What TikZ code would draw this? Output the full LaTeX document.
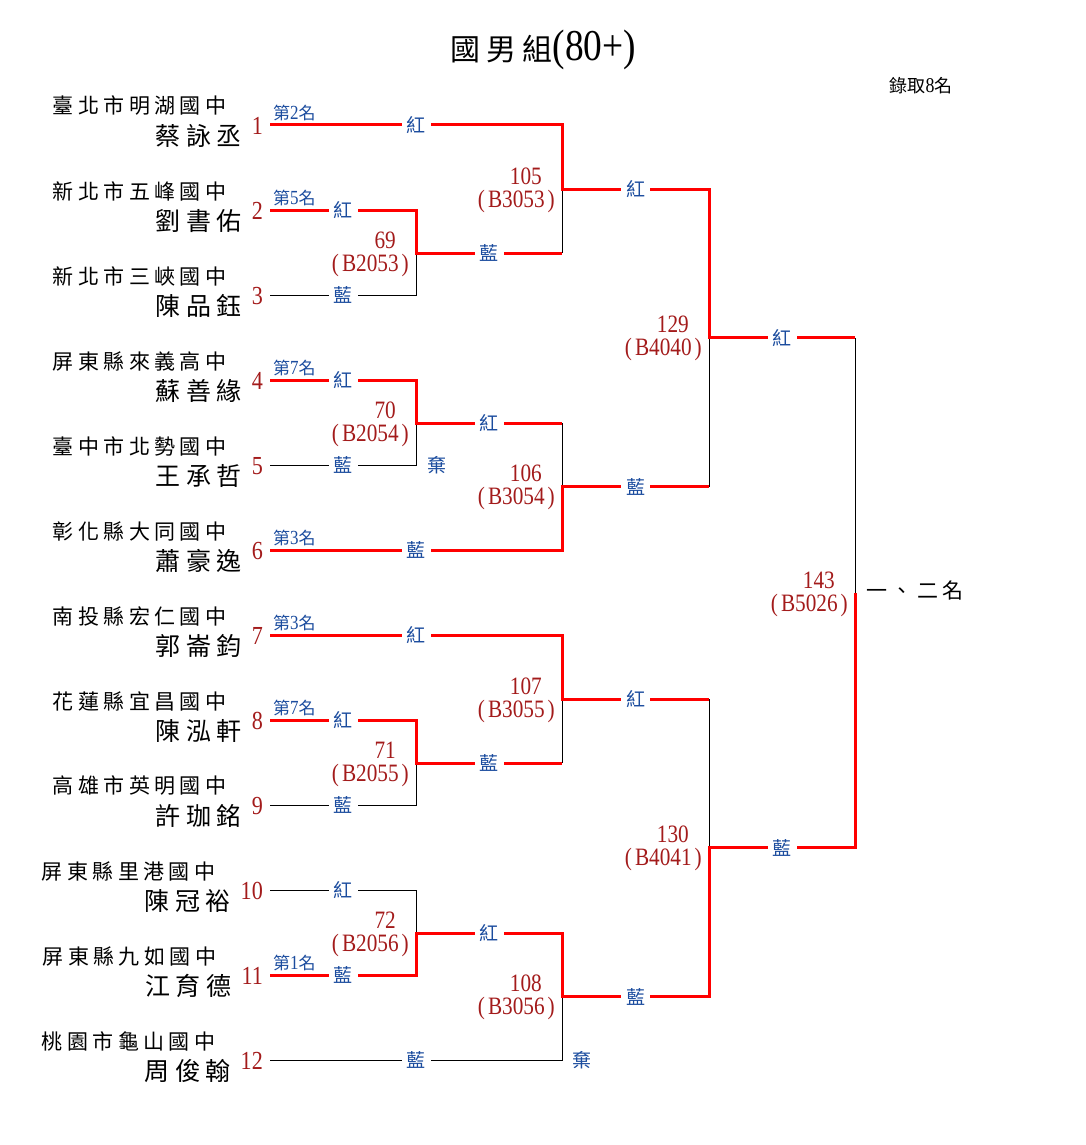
\documentclass[tikz,border=0pt]{standalone}
\usepackage{fontspec}
\setmainfont{Liberation Serif}
\newfontfamily\cjk{Noto Sans CJK TC}
\newfontfamily\cjkwide[LetterSpace=21]{Noto Sans CJK TC}
\newfontfamily\numfont[FakeStretch=0.85]{Liberation Serif}
\usepackage{tikz}
\usetikzlibrary{calc, positioning}

\definecolor{seedred}{HTML}{A31B1B}
\definecolor{cornerblue}{HTML}{1B4C9E}

\tikzset{
  win/.style={draw=red, line width=3pt},
  lose/.style={draw=black, line width=0.9pt},
  corner/.style={fill=white, text=cornerblue, inner xsep=5pt, inner ysep=1pt, font=\cjk\fontsize{19}{19}\selectfont},
  seed/.style={text=seedred, inner sep=0pt, anchor=east, font=\numfont\fontsize{26}{26}\selectfont},
  school/.style={inner sep=0pt, anchor=east, font=\cjkwide\fontsize{21}{21}\selectfont},
  pname/.style={inner sep=0pt, anchor=east, font=\cjkwide\fontsize{25}{25}\selectfont},
  rank/.style={text=cornerblue, inner sep=0pt, anchor=south west, font=\numfont\fontsize{20}{20}\selectfont},
  bout/.style={text=seedred, inner sep=0pt, anchor=east, align=right, font=\numfont\fontsize{25}{23}\selectfont},
  quit/.style={text=cornerblue, inner sep=0pt, font=\cjk\fontsize{19}{19}\selectfont},
}

\begin{document}
\begin{tikzpicture}[x=1pt, y=-1pt]
\useasboundingbox (0,0) rectangle (1085,1145);

% title
\node[inner sep=0pt] (title) at (543,50) {{\cjkwide\fontsize{30}{30}\selectfont 國男組}{\numfont\fontsize{44}{44}\selectfont(80+)}};
\node[inner sep=0pt] (quota) at (921,86) {{\cjk\fontsize{18}{18}\selectfont 錄取}{\numfont\fontsize{21}{21}\selectfont 8}{\cjk\fontsize{18}{18}\selectfont 名}};

% entrants
\node[seed] (s1) at (263,126) {1};
\node[pname] (p1) at ([xshift=-10pt,yshift=-10pt]s1.west) {蔡詠丞};
\node[school] (h1) at ([xshift=-15pt,yshift=30pt]p1.east) {臺北市明湖國中};
\node[seed] (s2) at (263,211) {2};
\node[pname] (p2) at ([xshift=-10pt,yshift=-10pt]s2.west) {劉書佑};
\node[school] (h2) at ([xshift=-15pt,yshift=30pt]p2.east) {新北市五峰國中};
\node[seed] (s3) at (263,296) {3};
\node[pname] (p3) at ([xshift=-10pt,yshift=-10pt]s3.west) {陳品鈺};
\node[school] (h3) at ([xshift=-15pt,yshift=30pt]p3.east) {新北市三峽國中};
\node[seed] (s4) at (263,381) {4};
\node[pname] (p4) at ([xshift=-10pt,yshift=-10pt]s4.west) {蘇善緣};
\node[school] (h4) at ([xshift=-15pt,yshift=30pt]p4.east) {屏東縣來義高中};
\node[seed] (s5) at (263,466) {5};
\node[pname] (p5) at ([xshift=-10pt,yshift=-10pt]s5.west) {王承哲};
\node[school] (h5) at ([xshift=-15pt,yshift=30pt]p5.east) {臺中市北勢國中};
\node[seed] (s6) at (263,551) {6};
\node[pname] (p6) at ([xshift=-10pt,yshift=-10pt]s6.west) {蕭豪逸};
\node[school] (h6) at ([xshift=-15pt,yshift=30pt]p6.east) {彰化縣大同國中};
\node[seed] (s7) at (263,636) {7};
\node[pname] (p7) at ([xshift=-10pt,yshift=-10pt]s7.west) {郭崙鈞};
\node[school] (h7) at ([xshift=-15pt,yshift=30pt]p7.east) {南投縣宏仁國中};
\node[seed] (s8) at (263,721) {8};
\node[pname] (p8) at ([xshift=-10pt,yshift=-10pt]s8.west) {陳泓軒};
\node[school] (h8) at ([xshift=-15pt,yshift=30pt]p8.east) {花蓮縣宜昌國中};
\node[seed] (s9) at (263,806) {9};
\node[pname] (p9) at ([xshift=-10pt,yshift=-10pt]s9.west) {許珈銘};
\node[school] (h9) at ([xshift=-15pt,yshift=30pt]p9.east) {高雄市英明國中};
\node[seed] (s10) at (263,891) {10};
\node[pname] (p10) at ([xshift=-10pt,yshift=-10pt]s10.west) {陳冠裕};
\node[school] (h10) at ([xshift=-15pt,yshift=30pt]p10.east) {屏東縣里港國中};
\node[seed] (s11) at (263,976) {11};
\node[pname] (p11) at ([xshift=-10pt,yshift=-10pt]s11.west) {江育德};
\node[school] (h11) at ([xshift=-15pt,yshift=30pt]p11.east) {屏東縣九如國中};
\node[seed] (s12) at (263,1061) {12};
\node[pname] (p12) at ([xshift=-10pt,yshift=-10pt]s12.west) {周俊翰};
\node[school] (h12) at ([xshift=-15pt,yshift=30pt]p12.east) {桃園市龜山國中};

% line starts
\coordinate (e1) at (270,125);  \coordinate (e2) at (270,210);  \coordinate (e3) at (270,295);
\coordinate (e4) at (270,380);  \coordinate (e5) at (270,465);  \coordinate (e6) at (270,550);
\coordinate (e7) at (270,635);  \coordinate (e8) at (270,720);  \coordinate (e9) at (270,805);
\coordinate (e10) at (270,890); \coordinate (e11) at (270,975); \coordinate (e12) at (270,1060);

% bout points
\coordinate (m69) at (416,253);  \coordinate (m70) at (416,423);
\coordinate (m71) at (416,763);  \coordinate (m72) at (416,933);
\coordinate (m105) at (562,189); \coordinate (m106) at (562,486.5);
\coordinate (m107) at (562,699); \coordinate (m108) at (562,996.5);
\coordinate (m129) at (709,337.75); \coordinate (m130) at (709,847.75);
\coordinate (m143) at (855,593);

% ranks
\node[rank] (r1) at ([xshift=3pt,yshift=4pt]e1) {{\cjk\fontsize{17}{17}\selectfont 第}2{\cjk\fontsize{17}{17}\selectfont 名}};
\node[rank] (r2) at ([xshift=3pt,yshift=4pt]e2) {{\cjk\fontsize{17}{17}\selectfont 第}5{\cjk\fontsize{17}{17}\selectfont 名}};
\node[rank] (r4) at ([xshift=3pt,yshift=4pt]e4) {{\cjk\fontsize{17}{17}\selectfont 第}7{\cjk\fontsize{17}{17}\selectfont 名}};
\node[rank] (r6) at ([xshift=3pt,yshift=4pt]e6) {{\cjk\fontsize{17}{17}\selectfont 第}3{\cjk\fontsize{17}{17}\selectfont 名}};
\node[rank] (r7) at ([xshift=3pt,yshift=4pt]e7) {{\cjk\fontsize{17}{17}\selectfont 第}3{\cjk\fontsize{17}{17}\selectfont 名}};
\node[rank] (r8) at ([xshift=3pt,yshift=4pt]e8) {{\cjk\fontsize{17}{17}\selectfont 第}7{\cjk\fontsize{17}{17}\selectfont 名}};
\node[rank] (r11) at ([xshift=3pt,yshift=4pt]e11) {{\cjk\fontsize{17}{17}\selectfont 第}1{\cjk\fontsize{17}{17}\selectfont 名}};

% losing lines
\draw[lose] (e3) -- node[corner] {藍} (e3 -| m69) -- (m69);
\draw[lose] (e5) -- node[corner] {藍} (e5 -| m70) -- (m70);
\draw[lose] (e9) -- node[corner] {藍} (e9 -| m71) -- (m71);
\draw[lose] (e10) -- node[corner] {紅} (e10 -| m72) -- (m72);
\draw[lose] (e12) -- node[corner] {藍} (e12 -| m108) -- (m108);
\draw[lose] (m69 -| m105) -- (m105);
\draw[lose] (m70 -| m106) -- (m106);
\draw[lose] (m71 -| m107) -- (m107);
\draw[lose] (m106 -| m129) -- (m129);
\draw[lose] (m107 -| m130) -- (m130);
\draw[lose] (m129 -| m143) -- (m143);

% winning lines
\draw[win] (e1) -- node[corner] {紅} (e1 -| m105) -- (m105) -- node[corner] {紅} (m105 -| m129) -- (m129) -- node[corner] {紅} (m129 -| m143);
\draw[win] (e2) -- node[corner] {紅} (e2 -| m69) -- (m69) -- node[corner] {藍} (m69 -| m105);
\draw[win] (e4) -- node[corner] {紅} (e4 -| m70) -- (m70) -- node[corner] {紅} (m70 -| m106);
\draw[win] (e6) -- node[corner] {藍} (e6 -| m106) -- (m106) -- node[corner] {藍} (m106 -| m129);
\draw[win] (e7) -- node[corner] {紅} (e7 -| m107) -- (m107) -- node[corner] {紅} (m107 -| m130);
\draw[win] (e8) -- node[corner] {紅} (e8 -| m71) -- (m71) -- node[corner] {藍} (m71 -| m107);
\draw[win] (e11) -- node[corner] {藍} (e11 -| m72) -- (m72) -- node[corner] {紅} (m72 -| m108) -- (m108) -- node[corner] {藍} (m108 -| m130) -- (m130) -- node[corner] {藍} (m130 -| m143) -- (m143);

% walkovers
\node[quit] (q70) at ([xshift=21pt]e5 -| m70) {棄};
\node[quit] (q108) at ([xshift=20pt]e12 -| m108) {棄};

% bout numbers
\node[bout] (b69) at ($(m69)+(-7,1)$) {69\kern13pt\\(\kern3pt B2053\kern3pt)};
\node[bout] (b70) at ($(m70)+(-7,1)$) {70\kern13pt\\(\kern3pt B2054\kern3pt)};
\node[bout] (b71) at ($(m71)+(-7,1)$) {71\kern13pt\\(\kern3pt B2055\kern3pt)};
\node[bout] (b72) at ($(m72)+(-7,1)$) {72\kern13pt\\(\kern3pt B2056\kern3pt)};
\node[bout] (b105) at ($(m105)+(-7,1)$) {105\kern13pt\\(\kern3pt B3053\kern3pt)};
\node[bout] (b106) at ($(m106)+(-7,1)$) {106\kern13pt\\(\kern3pt B3054\kern3pt)};
\node[bout] (b107) at ($(m107)+(-7,1)$) {107\kern13pt\\(\kern3pt B3055\kern3pt)};
\node[bout] (b108) at ($(m108)+(-7,1)$) {108\kern13pt\\(\kern3pt B3056\kern3pt)};
\node[bout] (b129) at ($(m129)+(-7,1)$) {129\kern13pt\\(\kern3pt B4040\kern3pt)};
\node[bout] (b130) at ($(m130)+(-7,1)$) {130\kern13pt\\(\kern3pt B4041\kern3pt)};
\node[bout] (b143) at ($(m143)+(-7,1)$) {143\kern13pt\\(\kern3pt B5026\kern3pt)};

% final
\node[inner sep=0pt, anchor=west, font=\cjkwide\fontsize{21}{21}\selectfont] (top2) at ($(m143)+(11,-2)$) {一、二名};
\end{tikzpicture}
\end{document}
